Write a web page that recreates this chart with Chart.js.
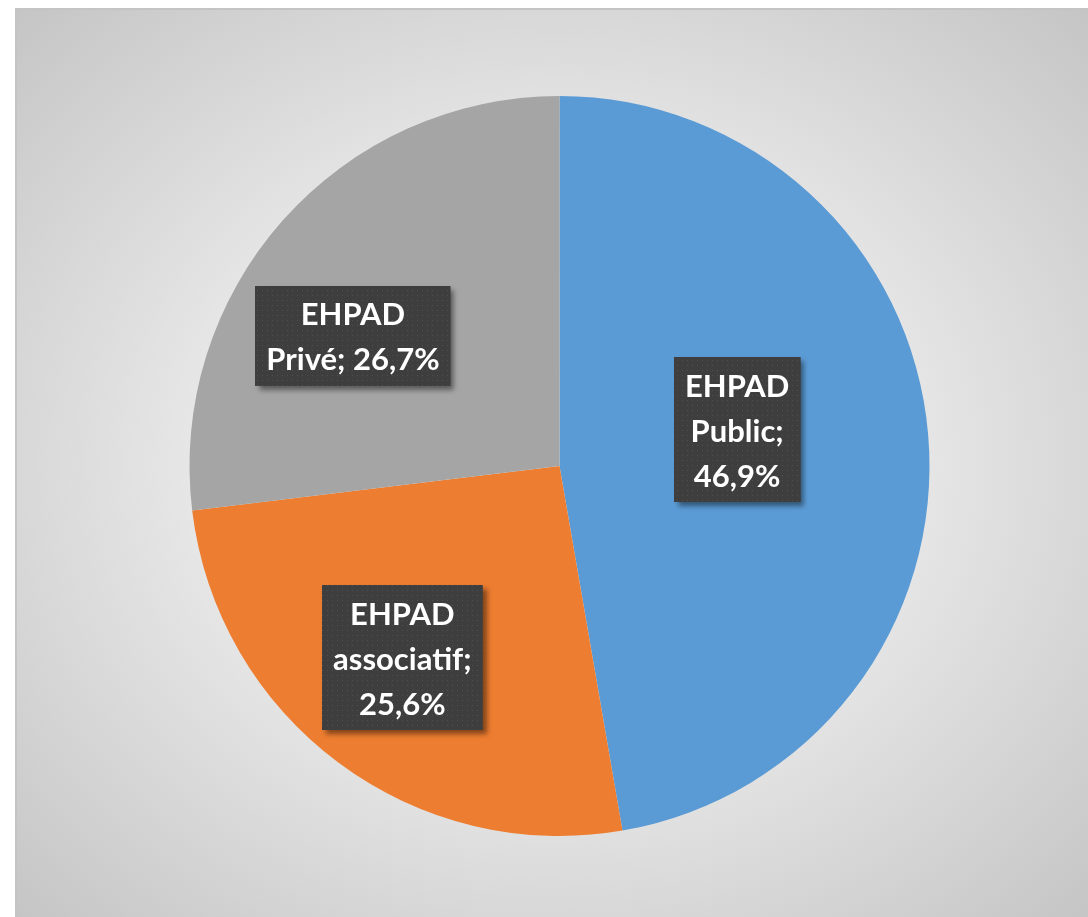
<!DOCTYPE html>
<html>
<head>
<meta charset="utf-8">
<script src="https://cdn.jsdelivr.net/npm/chart.js@4.4.1/dist/chart.umd.min.js"></script>
<style>
  html, body { margin: 0; padding: 0; background: #ffffff; }
  body { width: 1088px; height: 917px; overflow: hidden; position: relative; }
  #frame {
    position: absolute; left: 15px; top: 8px; width: 1073px; height: 909px;
    box-sizing: border-box;
    border-top: 2px solid #c4c4c4; border-left: 2px solid #c4c4c4;
    background: radial-gradient(ellipse farthest-corner at 50% 50%, #f3f3f3 0%, #e8e8e8 45%, #c5c5c5 100%);
  }
  #c { position: absolute; left: -2px; top: -2px; }
</style>
</head>
<body>
<div id="frame"><canvas id="c" width="1073" height="909"></canvas></div>
<script>
// ---- data ----
const categories = ['EHPAD Public', 'EHPAD associatif', 'EHPAD Privé'];
const values = [46.9, 25.6, 26.7];
const colors = ['#5B9BD5', '#ED7D31', '#A5A5A5'];

// ---- label placement (style) ----
const labelRadius = [0.49, 0.67, 0.66];
const labelAngleShift = [-6.6, 2.7, -9.3];
const labelWrapWidth = [110, 150, 200];

function fmt(v) { return v.toFixed(1).replace('.', ',') + '%'; }

function makePattern(ctx) {
  const p = document.createElement('canvas');
  p.width = 5; p.height = 5;
  const pc = p.getContext('2d');
  pc.fillStyle = '#3e3e3e';
  pc.fillRect(0, 0, 5, 5);
  pc.fillStyle = '#505050';
  pc.fillRect(2, 2, 1, 1);
  return ctx.createPattern(p, 'repeat');
}

// wrap filling the last lines first
function wrap(ctx, text, maxW) {
  const words = text.split(' ');
  const lines = [];
  let cur = '';
  for (let j = words.length - 1; j >= 0; j--) {
    const w = words[j];
    const t = cur ? w + ' ' + cur : w;
    if (cur && ctx.measureText(t).width > maxW) { lines.unshift(cur); cur = w; }
    else cur = t;
  }
  if (cur) lines.unshift(cur);
  return lines;
}

const boxLabels = {
  id: 'boxLabels',
  afterDatasetsDraw(chart) {
    const ctx = chart.ctx;
    const meta = chart.getDatasetMeta(0);
    const pattern = makePattern(ctx);
    ctx.save();
    ctx.font = 'bold 31px Lato, "Open Sans", sans-serif';
    const lh = 45;
    meta.data.forEach((arc, i) => {
      const p = arc.getProps(['x', 'y', 'startAngle', 'endAngle', 'outerRadius'], true);
      const mid = (p.startAngle + p.endAngle) / 2 + labelAngleShift[i] * Math.PI / 180;
      const cx = p.x + Math.cos(mid) * p.outerRadius * labelRadius[i];
      const cy = p.y + Math.sin(mid) * p.outerRadius * labelRadius[i];
      const text = categories[i] + '; ' + fmt(values[i]);
      const lines = wrap(ctx, text, labelWrapWidth[i]);
      const w = Math.max(...lines.map(l => ctx.measureText(l).width)) + 22;
      const h = lines.length * lh + 10;
      const x0 = Math.round(cx - w / 2), y0 = Math.round(cy - h / 2);
      ctx.save();
      ctx.shadowColor = 'rgba(0,0,0,0.45)';
      ctx.shadowOffsetX = 4; ctx.shadowOffsetY = 4; ctx.shadowBlur = 5;
      ctx.fillStyle = '#3e3e3e';
      ctx.fillRect(x0, y0, w, h);
      ctx.restore();
      ctx.fillStyle = pattern;
      ctx.fillRect(x0, y0, w, h);
      ctx.fillStyle = '#ffffff';
      ctx.textAlign = 'center';
      ctx.textBaseline = 'middle';
      lines.forEach((l, k) => {
        ctx.fillText(l, cx, cy + (k - (lines.length - 1) / 2) * lh + 2);
      });
    });
    ctx.restore();
  }
};

new Chart(document.getElementById('c'), {
  type: 'pie',
  data: {
    labels: categories,
    datasets: [{
      data: values,
      backgroundColor: colors,
      borderWidth: 0,
      hoverOffset: 0,
      offset: 0
    }]
  },
  options: {
    responsive: false,
    animation: false,
    events: [],
    layout: { padding: { left: 174.5, right: 158.5, top: 88, bottom: 81 } },
    plugins: {
      legend: { display: false },
      tooltip: { enabled: false },
      title: { display: false }
    }
  },
  plugins: [boxLabels]
});
</script>
</body>
</html>
